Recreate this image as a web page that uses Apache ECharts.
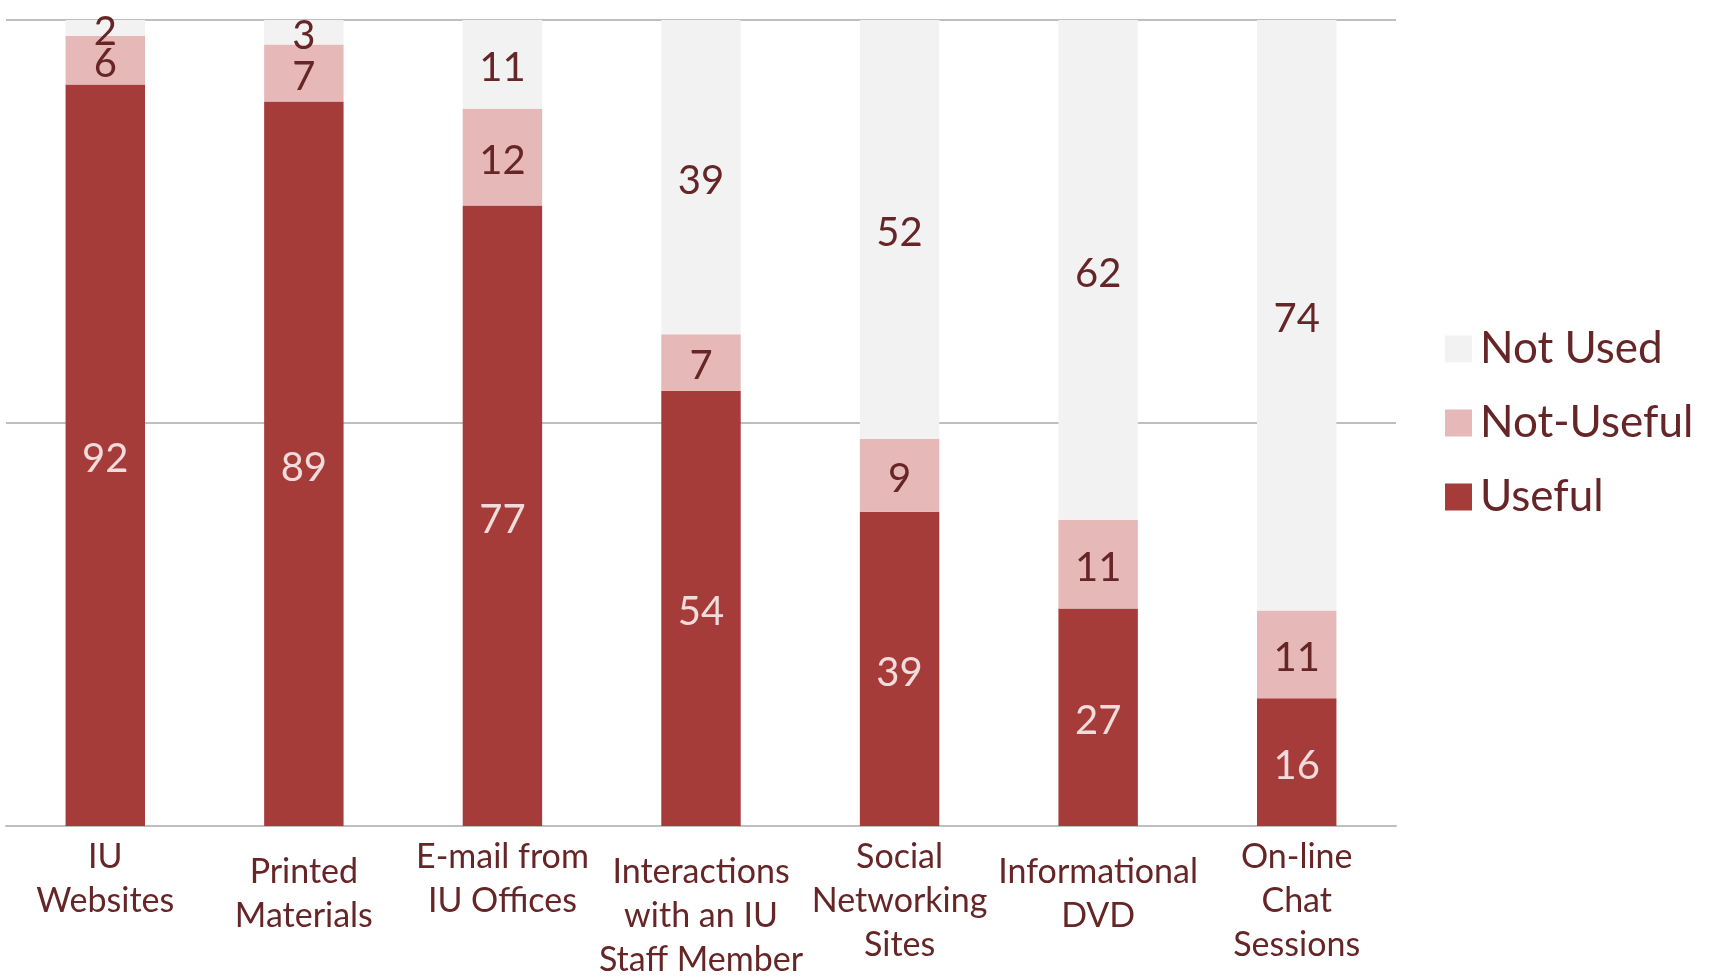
<!DOCTYPE html>
<html>
<head>
<meta charset="utf-8">
<script src="https://cdn.jsdelivr.net/npm/echarts@6/dist/echarts.min.js"></script>
<style>
  html, body { margin: 0; padding: 0; background: #fff; }
  #chart { width: 1716px; height: 977px; }
</style>
</head>
<body>
<div id="chart"></div>
<script>
    // categories and values
    const categories = [
        "IU\nWebsites",
        "Printed\nMaterials",
        "E-mail from\nIU Offices",
        "Interactions\nwith an IU\nStaff Member",
        "Social\nNetworking\nSites",
        "Informational\nDVD",
        "On-line\nChat\nSessions"
    ];
    const useful = [92, 89, 77, 54, 39, 27, 16];
    const notUseful = [6, 7, 12, 7, 9, 11, 11];
    const notUsed = [2, 3, 11, 39, 52, 62, 74];

    const textColor = "#662526";
    const fontFamily = "Lato, 'Open Sans', sans-serif";

    // 100% stacked: each bar scaled to its own total, labels keep the raw number
    const totals = categories.map((c, i) => useful[i] + notUseful[i] + notUsed[i]);
    const toPercent = arr => arr.map((v, i) => ({ value: v / totals[i] * 100, raw: v }));

    function makeSeries(name, arr, color, labelColor) {
        return {
            name: name,
            type: "bar",
            stack: "total",
            barWidth: "40%",
            data: toPercent(arr),
            itemStyle: { color: color },
            label: {
                show: true,
                position: "inside",
                offset: [0, 4],
                color: labelColor,
                fontFamily: fontFamily,
                fontSize: 40,
                formatter: p => p.data.raw
            },
            emphasis: { disabled: true }
        };
    }

    var myChart = echarts.init(document.getElementById("chart"));
    var option = {
        animation: false,
        grid: { left: 6, right: 320, top: 20, bottom: 151, outerBoundsMode: "none" },
        legend: {
            orient: "vertical",
            left: 1440,
            top: 322,
            itemWidth: 27,
            itemHeight: 27,
            itemGap: 30,
            icon: "rect",
            data: ["Not Used", "Not-Useful", "Useful"],
            textStyle: { color: textColor, fontFamily: fontFamily, fontSize: 44, lineHeight: 44, padding: [0, 0, 0, 3] }
        },
        xAxis: {
            type: "category",
            data: categories.map((c, i) => i % 2 == 1 ? { value: c, textStyle: { padding: [15, 0, 0, 0] } } : c),
            axisTick: { show: false },
            axisLine: { lineStyle: { color: "#BFBFBF", width: 2 } },
            axisLabel: {
                interval: 0,
                margin: 9,
                color: textColor,
                fontFamily: fontFamily,
                fontSize: 34,
                lineHeight: 44
            }
        },
        yAxis: {
            type: "value",
            min: 0,
            max: 100,
            interval: 50,
            axisLabel: { show: false },
            axisLine: { show: false },
            axisTick: { show: false },
            splitLine: { lineStyle: { color: "#BFBFBF", width: 2 } }
        },
        series: [
            makeSeries("Useful", useful, "#A53C3A", "#F2DCDB"),
            makeSeries("Not-Useful", notUseful, "#E6B8B7", textColor),
            makeSeries("Not Used", notUsed, "#F2F2F2", textColor)
        ]
    };
    myChart.setOption(option);
</script>
</body>
</html>
